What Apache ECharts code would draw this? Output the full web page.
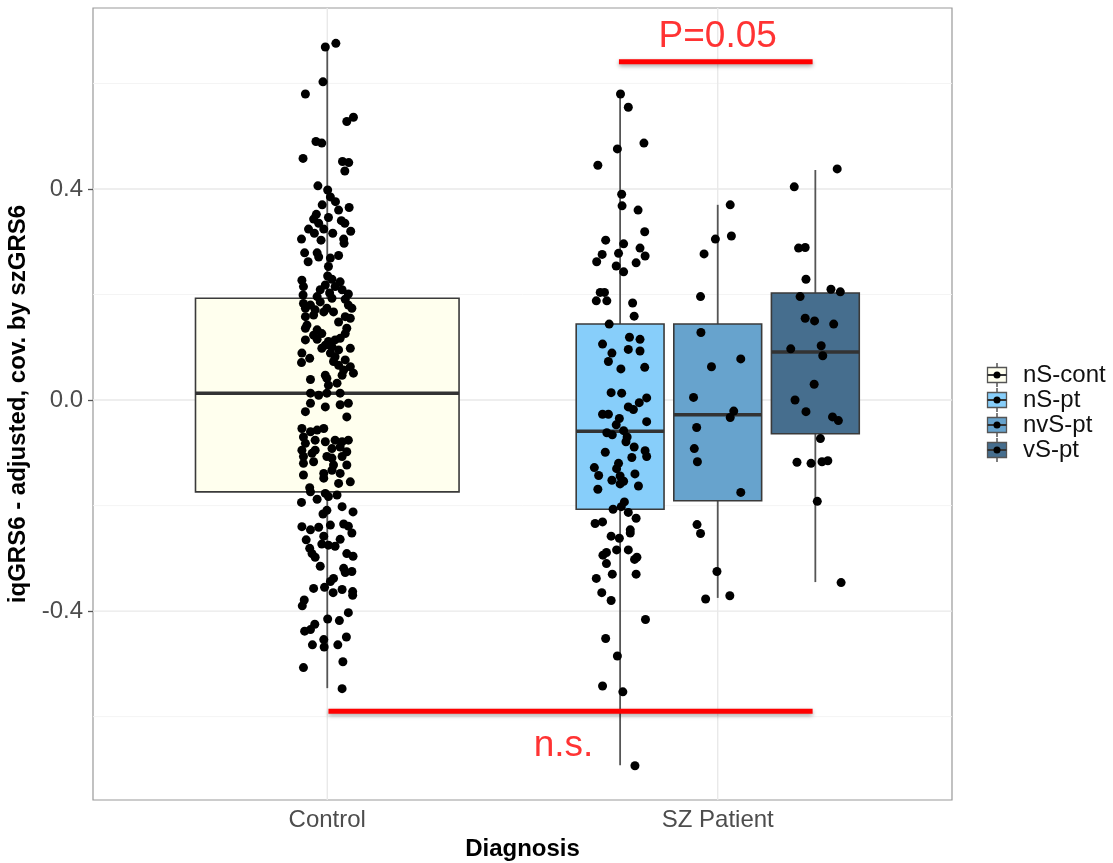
<!DOCTYPE html>
<html><head><meta charset="utf-8">
<script src="https://cdn.jsdelivr.net/npm/echarts@6/dist/echarts.min.js"></script>
<style>html,body{margin:0;padding:0;background:#fff}#chart{width:1113px;height:863px}</style>
</head><body><div id="chart"></div>
<script>
// ---------- data ----------
const categories = ['Control', 'SZ Patient'];
const groups = ['nS-cont', 'nS-pt', 'nvS-pt', 'vS-pt'];
const groupCategory = [0, 1, 1, 1];          // which x category each group belongs to
const groupSlot = [0, -1, 0, 1];             // dodge slot within the category
const boxColors = ['#FFFFEE', '#87CEFA', '#67A3CD', '#466E8E'];

// [lower whisker, Q1, median, Q3, upper whisker]
const statsNSCont = [-0.546, -0.174, 0.013, 0.193, 0.669];
const statsNSPt   = [-0.692, -0.207, -0.059, 0.144, 0.580];
const statsNvSPt  = [-0.375, -0.191, -0.028, 0.144, 0.370];
const statsVSPt   = [-0.345, -0.064, 0.091, 0.203, 0.436];

// jittered points: [jitter offset (x units), value]
const ptsNSCont = [[0.022,0.676],[-0.005,0.669],[-0.011,0.603],[-0.056,0.580],[0.067,0.536],[0.050,0.528],[-0.029,0.490],[-0.014,0.487],[-0.062,0.458],[0.039,0.452],[0.055,0.450],[0.045,0.434],[-0.024,0.406],[0.001,0.398],[0.008,0.385],[0.021,0.376],[-0.013,0.370],[0.056,0.365],[0.029,0.360],[-0.028,0.352],[0.003,0.346],[-0.035,0.343],[0.036,0.340],[0.045,0.335],[-0.022,0.335],[-0.048,0.324],[-0.009,0.324],[-0.033,0.316],[0.060,0.320],[0.014,0.316],[-0.066,0.305],[-0.016,0.303],[0.042,0.305],[0.043,0.297],
[-0.058,0.279],[-0.026,0.279],[-0.049,0.262],[-0.022,0.271],[0.029,0.274],[0.008,0.269],[0.003,0.253],[0.001,0.235],[-0.065,0.227],[0.012,0.229],[0.033,0.224],[-0.005,0.218],[-0.061,0.215],[0.020,0.215],[-0.018,0.209],[0.038,0.209],[0.006,0.203],[-0.062,0.199],[0.054,0.201],[-0.026,0.196],[0.012,0.193],[0.046,0.191],[-0.061,0.183],[-0.018,0.186],[-0.043,0.180],[0.054,0.180],[-0.056,0.174],[-0.001,0.174],[-0.031,0.171],[0.016,0.167],[-0.009,0.167],[0.063,0.174],[0.046,0.158],[-0.056,0.158],[-0.035,0.161],[0.059,0.155],[0.029,0.148],[-0.052,0.142],[-0.056,0.136],[0.050,0.136],[-0.026,0.133],[-0.014,0.126],[-0.035,0.123],[0.046,0.126],[0.033,0.117],[-0.026,0.115],[-0.056,0.114],[0.020,0.114],[0.003,0.111],[-0.005,0.104],[0.012,0.101],[0.059,0.098],[-0.014,0.098],[0.029,0.095],[-0.065,0.089],[0.008,0.089],[0.020,0.082],[-0.045,0.079],[-0.066,0.071],[0.046,0.076],[0.016,0.073],[0.029,0.066],[0.059,0.063],[0.042,0.057],[0.067,0.051],[-0.005,0.047],[0.038,0.047],[-0.043,0.039],[-0.001,0.041],[0.025,0.032],[0.003,0.028],[-0.043,0.013],[-0.022,0.009],[-0.001,0.013],[0.033,0.013],[-0.043,-0.006],[-0.005,-0.013],[0.033,-0.009],[0.054,-0.006],[-0.056,-0.022],[0.050,-0.032],[-0.065,-0.054],[-0.043,-0.060],[-0.026,-0.057],[-0.009,-0.054],[-0.061,-0.070],[-0.031,-0.076],[-0.056,-0.082],[-0.005,-0.079],[0.020,-0.076],[0.038,-0.079],[0.054,-0.076],[-0.065,-0.095],[-0.031,-0.095],[0.012,-0.092],[0.033,-0.089],[0.050,-0.098],[-0.061,-0.107],[-0.001,-0.107],[0.038,-0.107],
[-0.039,-0.101],[0.012,-0.110],[-0.061,-0.120],[-0.035,-0.117],[0.016,-0.123],[0.050,-0.123],[-0.009,-0.139],[-0.061,-0.142],[0.033,-0.139],[0.012,-0.133],[-0.009,-0.148],[0.029,-0.158],[0.059,-0.155],[-0.045,-0.166],[-0.043,-0.174],[-0.005,-0.177],[0.025,-0.180],[-0.066,-0.194],[-0.026,-0.188],[0.003,-0.183],[0.038,-0.202],[-0.001,-0.209],[0.066,-0.212],[-0.011,-0.216],[-0.065,-0.240],[-0.043,-0.246],[-0.022,-0.241],[0.008,-0.237],[0.042,-0.235],[0.054,-0.239],[0.063,-0.252],[-0.009,-0.258],[-0.054,-0.265],[0.033,-0.264],[-0.014,-0.273],[0.003,-0.275],[0.020,-0.277],[-0.045,-0.281],[-0.039,-0.291],[0.050,-0.291],[-0.031,-0.298],[0.066,-0.296],[-0.018,-0.315],[0.042,-0.319],[0.063,-0.325],[0.046,-0.327],[0.016,-0.338],[0.008,-0.344],[-0.035,-0.357],[-0.007,-0.355],[0.038,-0.359],[0.015,-0.365],[0.065,-0.363],[0.065,-0.370],[-0.059,-0.379],[-0.064,-0.390],[0.054,-0.403],[0.001,-0.415],[0.031,-0.418],[-0.032,-0.425],[-0.043,-0.435],[-0.058,-0.438],[0.049,-0.449],[-0.009,-0.454],[-0.038,-0.464],[-0.008,-0.468],[0.027,-0.464],[0.040,-0.496],[-0.061,-0.507],[0.038,-0.547]];

const ptsNSPt = [[0.001,0.580],[0.021,0.555],[0.061,0.487],[-0.007,0.476],[-0.057,0.445],[0.004,0.390],[0.005,0.368],[0.046,0.360],[0.063,0.319],[-0.037,0.303],[0.009,0.296],[0.051,0.288],[-0.046,0.276],[-0.004,0.278],[0.064,0.273],[-0.060,0.262],[0.041,0.260],[-0.010,0.254],[0.009,0.243],[-0.051,0.204],[-0.040,0.204],[-0.061,0.188],[-0.034,0.188],[0.032,0.184],
[0.036,0.159],[-0.028,0.144],[0.024,0.119],[0.051,0.115],[-0.045,0.106],[0.021,0.096],[0.051,0.093],[-0.021,0.089],[-0.030,0.073],[0.063,0.062],[0.002,0.059],[-0.023,0.014],[0.004,0.013],[0.068,0.004],[0.049,-0.005],[0.021,-0.013],[0.034,-0.018],[-0.045,-0.027],[-0.030,-0.027],[-0.002,-0.035],[0.068,-0.041],[-0.010,-0.047],[-0.034,-0.062],[-0.020,-0.066],[0.009,-0.058],[0.018,-0.070],[0.015,-0.079],[0.036,-0.089],[-0.038,-0.099],[0.064,-0.096],[0.068,-0.107],[0.030,-0.109],[-0.004,-0.120],[-0.066,-0.128],[-0.009,-0.130],[-0.055,-0.143],[0.038,-0.140],[0.000,-0.144],[-0.021,-0.152],[0.009,-0.154],[0.000,-0.159],[0.047,-0.163],[-0.057,-0.169],[0.011,-0.193],[0.003,-0.202],[-0.018,-0.207],[0.021,-0.213],[0.041,-0.224],[-0.045,-0.231],[-0.064,-0.234],[0.026,-0.246],
[-0.023,-0.258],[-0.002,-0.262],[0.026,-0.252],[-0.009,-0.284],[0.021,-0.284],[-0.044,-0.294],[-0.035,-0.289],[0.043,-0.298],[0.037,-0.302],[-0.035,-0.310],[-0.061,-0.338],[-0.020,-0.330],[0.041,-0.330],[-0.047,-0.365],[-0.023,-0.380],[0.065,-0.416],[-0.037,-0.452],[-0.007,-0.485],[-0.045,-0.542],[0.007,-0.553],[0.038,-0.693]];

const ptsNvSPt = [[0.032,0.370],[-0.006,0.305],[0.035,0.311],[-0.035,0.277],[-0.044,0.196],[-0.043,0.128],[0.059,0.078],[-0.016,0.063],[-0.062,0.005],[0.041,-0.021],[0.032,-0.033],[-0.054,-0.052],[-0.060,-0.092],[-0.052,-0.117],[0.059,-0.175],[-0.053,-0.236],[-0.044,-0.253],[-0.002,-0.325],[-0.031,-0.377],[0.031,-0.371]];

const ptsVSPt = [[0.056,0.438],[-0.054,0.404],[-0.043,0.288],[-0.026,0.289],[-0.024,0.229],[0.040,0.210],[0.064,0.205],[-0.039,0.196],[-0.026,0.155],[-0.002,0.150],[0.047,0.144],[-0.063,0.097],[0.015,0.103],[0.019,0.084],[-0.003,0.030],[-0.052,0.000],[-0.024,-0.022],[0.044,-0.032],[0.059,-0.039],[0.013,-0.073],[-0.047,-0.118],[-0.011,-0.120],[0.017,-0.117],[0.032,-0.115],[0.005,-0.192],[0.066,-0.346]];

const yTickValues = [-0.4, 0.0, 0.4];
const yMinorValues = [-0.6, -0.2, 0.2, 0.6];
const xTickValues = [1, 2];

// significance annotations: [x start, x end, y], label [text, x, y]
const pLine = [1.747, 2.243, 0.641];
const pLabel = ['P=0.05', 2.0, 0.689];
const nsLine = [1.003, 2.243, -0.590];
const nsLabel = ['n.s.', 1.605, -0.655];

// ---------- layout ----------
const FONT = 'Liberation Sans, Arial, Helvetica, sans-serif';
const X_MIN = 0.4, X_MAX = 2.6, Y_MIN = -0.758, Y_MAX = 0.743;
const DODGE = 0.25;
const allStats = [statsNSCont, statsNSPt, statsNvSPt, statsVSPt];
const allPts = [ptsNSCont, ptsNSPt, ptsNvSPt, ptsVSPt];
function groupCenter(g) { return groupCategory[g] + 1 + groupSlot[g] * DODGE; }
function boxWidth(g) { return groupCategory[g] === 0 ? 0.675 : 0.225; }

const boxData = groups.map((name, g) => [groupCenter(g)].concat(allStats[g]).concat([boxWidth(g), g]));
const pointData = [];
allPts.forEach((pts, g) => pts.forEach(p => pointData.push([groupCenter(g) + p[0], p[1]])));

const chart = echarts.init(document.getElementById('chart'), null, {renderer: 'canvas'});

function renderGridLines(params, api) {
  const isX = api.value(1) === 2;
  const v = api.value(0);
  const major = api.value(1) !== 0;
  let p1, p2;
  if (isX) { p1 = api.coord([v, Y_MIN]); p2 = api.coord([v, Y_MAX]); }
  else { p1 = api.coord([X_MIN, v]); p2 = api.coord([X_MAX, v]); }
  return {type: 'line', shape: {x1: p1[0], y1: p1[1], x2: p2[0], y2: p2[1]},
    style: {stroke: major ? '#E9E9E9' : '#F3F3F3', lineWidth: major ? 1.4 : 0.9}};
}
const gridLineData = yTickValues.map(v => [v, 1]).concat(yMinorValues.map(v => [v, 0])).concat(xTickValues.map(v => [v, 2]));

function renderBox(params, api) {
  const c = api.value(0);
  const lo = api.coord([c, api.value(1)]);
  const q1 = api.coord([c, api.value(2)]);
  const md = api.coord([c, api.value(3)]);
  const q3 = api.coord([c, api.value(4)]);
  const hi = api.coord([c, api.value(5)]);
  const half = api.size([api.value(6), 0])[0] / 2;
  const color = boxColors[api.value(7)];
  const x = lo[0];
  return {type: 'group', children: [
    {type: 'line', shape: {x1: x, y1: hi[1], x2: x, y2: q3[1]}, style: {stroke: '#555', lineWidth: 1.8}},
    {type: 'line', shape: {x1: x, y1: q1[1], x2: x, y2: lo[1]}, style: {stroke: '#555', lineWidth: 1.8}},
    {type: 'rect', shape: {x: x - half, y: q3[1], width: 2 * half, height: q1[1] - q3[1]},
      style: {fill: color, stroke: '#3a3a3a', lineWidth: 1.6}},
    {type: 'line', shape: {x1: x - half, y1: md[1], x2: x + half, y2: md[1]}, style: {stroke: '#333', lineWidth: 3.5}}
  ]};
}

// legend built from groups
const legendGraphics = [];
groups.forEach((name, g) => {
  const cy = 375 + g * 25, cx = 997;
  legendGraphics.push({type: 'group', x: cx, y: cy, children: [
    {type: 'line', shape: {x1: 0, y1: -12, x2: 0, y2: 12}, style: {stroke: '#555', lineWidth: 1.5}},
    {type: 'rect', shape: {x: -9.5, y: -7.5, width: 19, height: 15}, style: {fill: boxColors[g], stroke: '#555', lineWidth: 1.3}},
    {type: 'line', shape: {x1: -9.5, y1: 0, x2: 9.5, y2: 0}, style: {stroke: '#333', lineWidth: 2}},
    {type: 'circle', shape: {cx: 0, cy: 0, r: 3.5}, style: {fill: '#000'}}
  ]});
  legendGraphics.push({type: 'text', x: 1023, y: cy, style: {text: name, font: '24px ' + FONT, fill: '#111', textVerticalAlign: 'middle', textAlign: 'left'}});
});

const option = {
  backgroundColor: '#fff',
  animation: false,
  grid: {left: 93, right: 161, top: 8, bottom: 63, show: true, borderColor: '#999', borderWidth: 1.2,
    backgroundColor: 'transparent', containLabel: false, outerBoundsMode: 'none'},
  xAxis: {
    type: 'value', min: X_MIN, max: X_MAX,
    axisLine: {show: false},
    splitLine: {show: false},
    axisTick: {show: true, customValues: xTickValues, length: 5, lineStyle: {color: '#555', width: 1.3}},
    axisLabel: {customValues: xTickValues, formatter: v => categories[Math.round(v) - 1] || '', color: '#4D4D4D', fontSize: 24, fontFamily: FONT, margin: 8},
    name: 'Diagnosis', nameLocation: 'middle', nameGap: 35,
    nameTextStyle: {color: '#000', fontSize: 24, fontWeight: 'bold', fontFamily: FONT}
  },
  yAxis: {
    type: 'value', min: Y_MIN, max: Y_MAX,
    axisLine: {show: false},
    splitLine: {show: false},
    axisTick: {show: true, customValues: yTickValues, length: 5, lineStyle: {color: '#555', width: 1.3}},
    axisLabel: {customValues: yTickValues, formatter: v => v.toFixed(1), color: '#4D4D4D', fontSize: 24, fontFamily: FONT, margin: 10},
    name: 'iqGRS6 - adjusted, cov. by szGRS6', nameLocation: 'middle', nameGap: 58, nameRotate: 90,
    nameTextStyle: {color: '#000', fontSize: 24, fontWeight: 'bold', fontFamily: FONT}
  },
  graphic: legendGraphics,
  series: [
    {type: 'custom', name: 'grid', data: gridLineData, renderItem: renderGridLines, z: 1, silent: true, clip: true},
    {type: 'custom', name: 'boxes', data: boxData, renderItem: renderBox, z: 2, silent: true},
    {type: 'scatter', name: 'points', data: pointData, symbolSize: 9, itemStyle: {color: '#000', opacity: 1}, z: 3, silent: true},
    {type: 'line', name: 'pLine', data: [[pLine[0], pLine[2]], [pLine[1], pLine[2]]], symbol: 'none', z: 4, silent: true,
      lineStyle: {color: '#FF0000', width: 5, shadowColor: 'rgba(0,0,0,0.35)', shadowBlur: 4, shadowOffsetY: 2}},
    {type: 'line', name: 'nsLine', data: [[nsLine[0], nsLine[2]], [nsLine[1], nsLine[2]]], symbol: 'none', z: 4, silent: true,
      lineStyle: {color: '#FF0000', width: 5, shadowColor: 'rgba(0,0,0,0.35)', shadowBlur: 4, shadowOffsetY: 2}},
    {type: 'scatter', name: 'labels', data: [[pLabel[1], pLabel[2], pLabel[0]], [nsLabel[1], nsLabel[2], nsLabel[0]]],
      symbolSize: 1, itemStyle: {color: 'rgba(0,0,0,0)'}, z: 5, silent: true,
      label: {show: true, position: 'inside', formatter: p => p.value[2], color: '#FF0000', fontSize: 37, fontFamily: FONT}}
  ]
};
chart.setOption(option);
</script></body></html>
